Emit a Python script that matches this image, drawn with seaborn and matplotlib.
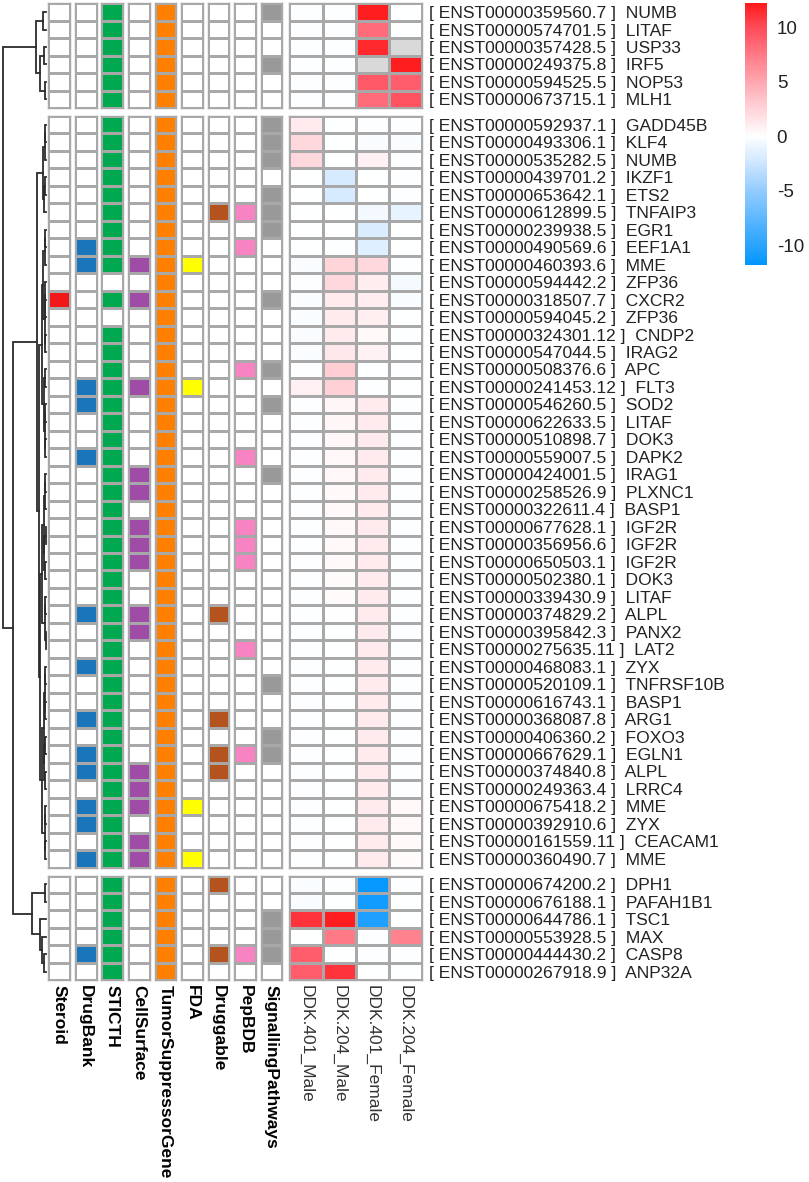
import numpy as np
import pandas as pd
import seaborn as sns
import matplotlib.pyplot as plt
from matplotlib.colors import ListedColormap, LinearSegmentedColormap, Normalize
from matplotlib.cm import ScalarMappable

# ---- data -------------------------------------------------------------
transcripts = [
    # cluster 1
    'ENST00000359560.7', 'ENST00000574701.5', 'ENST00000357428.5', 'ENST00000249375.8',
    'ENST00000594525.5', 'ENST00000673715.1',
    # cluster 2
    'ENST00000592937.1', 'ENST00000493306.1', 'ENST00000535282.5', 'ENST00000439701.2',
    'ENST00000653642.1', 'ENST00000612899.5', 'ENST00000239938.5', 'ENST00000490569.6',
    'ENST00000460393.6', 'ENST00000594442.2', 'ENST00000318507.7', 'ENST00000594045.2',
    'ENST00000324301.12', 'ENST00000547044.5', 'ENST00000508376.6', 'ENST00000241453.12',
    'ENST00000546260.5', 'ENST00000622633.5', 'ENST00000510898.7', 'ENST00000559007.5',
    'ENST00000424001.5', 'ENST00000258526.9', 'ENST00000322611.4', 'ENST00000677628.1',
    'ENST00000356956.6', 'ENST00000650503.1', 'ENST00000502380.1', 'ENST00000339430.9',
    'ENST00000374829.2', 'ENST00000395842.3', 'ENST00000275635.11', 'ENST00000468083.1',
    'ENST00000520109.1', 'ENST00000616743.1', 'ENST00000368087.8', 'ENST00000406360.2',
    'ENST00000667629.1', 'ENST00000374840.8', 'ENST00000249363.4', 'ENST00000675418.2',
    'ENST00000392910.6', 'ENST00000161559.11', 'ENST00000360490.7',
    # cluster 3
    'ENST00000674200.2', 'ENST00000676188.1', 'ENST00000644786.1', 'ENST00000553928.5',
    'ENST00000444430.2', 'ENST00000267918.9',
]
genes = [
    'NUMB', 'LITAF', 'USP33', 'IRF5', 'NOP53', 'MLH1',
    'GADD45B', 'KLF4', 'NUMB', 'IKZF1', 'ETS2', 'TNFAIP3', 'EGR1', 'EEF1A1', 'MME',
    'ZFP36', 'CXCR2', 'ZFP36', 'CNDP2', 'IRAG2', 'APC', 'FLT3', 'SOD2', 'LITAF', 'DOK3',
    'DAPK2', 'IRAG1', 'PLXNC1', 'BASP1', 'IGF2R', 'IGF2R', 'IGF2R', 'DOK3', 'LITAF',
    'ALPL', 'PANX2', 'LAT2', 'ZYX', 'TNFRSF10B', 'BASP1', 'ARG1', 'FOXO3', 'EGLN1',
    'ALPL', 'LRRC4', 'MME', 'ZYX', 'CEACAM1', 'MME',
    'DPH1', 'PAFAH1B1', 'TSC1', 'MAX', 'CASP8', 'ANP32A',
]
group_sizes = [6, 43, 6]

# log2 fold changes (NaN = missing)
nan = np.nan
ddk401_male = [-0.1, -0.1, -0.1, -0.1, -0.1, -0.1,
               1.2, 2.2, 2.2, -0.05, 0, 0, 0, 0, -0.2, -0.1, -0.2, -0.2, -0.2, -0.2, -0.1, 0.8,
               -0.1, -0.1, -0.1, -0.1, -0.1, -0.1, -0.1, -0.1, -0.1, -0.1, -0.1, -0.1, -0.1,
               -0.1, -0.1, -0.1, -0.1, -0.1, -0.1, -0.1, -0.1, -0.1, -0.1, -0.1, -0.1, -0.1, -0.1,
               -0.2, -0.2, 11.0, 0, 9.0, 9.0]
ddk204_male = [-0.1, -0.1, -0.1, -0.1, -0.1, -0.1,
               0, 0, 0, -2.0, -2.0, 0, 0, -0.1, 2.4, 2.2, 1.2, 1.2, 1.2, 1.3, 2.8, 2.6,
               0.5, 0.5, 0.4, 0.4, 0.4, 0.3, 0.3, 0.3, 0.3, 0.3, 0.2, 0.2, 0.1,
               0, 0, 0, 0, 0, 0, 0, 0, 0, 0, 0, 0, 0, 0,
               -0.1, 0, 12.0, 7.5, 0, 11.0]
ddk401_female = [12.0, 8.2, 11.5, nan, 9.2, 8.2,
                 -0.1, -0.2, 0.8, 0, 0, -0.6, -1.8, -1.6, 2.2, 1.0, 1.0, 0.9, 0.3, 0.7, 0, -0.1,
                 1.2, 1.2, 1.2, 1.2, 1.2, 1.2, 1.2, 1.2, 1.2, 1.2, 1.2, 1.2, 1.2,
                 1.2, 1.2, 1.2, 1.2, 1.2, 1.2, 1.2, 1.2, 1.2, 1.2, 1.2, 1.2, 1.2, 1.2,
                 -11.5, -11.0, -10.5, -0.1, -0.1, 0]
ddk204_female = [0, 0, nan, 12.0, 9.0, 9.5,
                 -0.1, -0.2, -0.1, -0.1, -0.1, -1.2, 0, 0, -0.1, -0.5, -0.2, 0, -0.1, 0, -0.1, 0,
                 -0.1, -0.1, -0.1, -0.1, -0.1, -0.1, -0.1, -0.1, -0.1, -0.1, -0.1, -0.1, -0.1,
                 -0.1, -0.1, -0.1, -0.1, -0.1, -0.1, -0.1, -0.1, -0.1, -0.1, 0.3, 0.3, 0.3, 0.2,
                 -0.1, 0, 0, 7.0, -0.1, 0]
expr_cols = ['DDK.401_Male', 'DDK.204_Male', 'DDK.401_Female', 'DDK.204_Female']

# annotation membership (row indices, 0-54)
ann_names = ['Steroid', 'DrugBank', 'STICTH', 'CellSurface', 'TumorSuppressorGene',
             'FDA', 'Druggable', 'PepBDB', 'SignallingPathways']
ann_colors = ['#F01818', '#1B75BB', '#00A94F', '#9E4CA5', '#FF7F00',
              '#FFFF00', '#B5531F', '#F883C3', '#999999']
steroid = [16]
drugbank = [13, 14, 21, 22, 25, 34, 37, 40, 42, 43, 45, 46, 48, 53]
sticth = [i for i in range(55) if i not in (15, 17)]
cellsurface = [14, 16, 21, 26, 27, 29, 30, 31, 34, 35, 43, 44, 45, 47, 48]
tumorsuppressor = list(range(55))
fda = [14, 21, 45, 48]
druggable = [11, 34, 40, 42, 43, 49, 53]
pepbdb = [11, 13, 20, 25, 29, 30, 31, 36, 42, 53]
signalling = [0, 3, 6, 7, 8, 10, 11, 12, 16, 20, 22, 26, 38, 41, 42, 51, 52, 53]
ann_members = [steroid, drugbank, sticth, cellsurface, tumorsuppressor,
               fda, druggable, pepbdb, signalling]

# row dendrograms: (height, left, right), leaves are local row indices
tree_g1 = (10, (3, 0, 1), (6, (2, 2, 3), (1.5, 4, 5)))
tree_g2 = (9,
           (3, (1.5, (0.8, 0, 1), 2), (1.8, (1.2, 3, 4), 5)),
           (7.5,
            (4.5, (2.6, (1.0, (0.7, 6, 7), 8), (1.4, (1.0, 9, (0.6, 10, 11)), (0.8, 12, 13))),
             (2.0, (0.9, 14, 15), (1.1, (1.1, 16, 17), (0.7, 18, 19)))),
            (6,
             (3.8, (2.2, (1.3, (0.6, 20, 21), 22), (1.6, (0.5, 23, 24), (0.9, 25, 26))),
              (1.2, (0.7, 27, 28), (0.5, 29, 30))),
             (4.2, (2.4, (1.5, (0.8, 31, 32), (0.6, 33, 34)), (1.7, (0.9, 35, 36), (1.0, 37, 38))),
              (1.4, (0.7, 39, 40), (0.6, 41, 42))))))
tree_g3 = (14, (1.2, 0, 1), (6, 2, (4, 3, (2.5, 4, 5))))
join_g2_g3 = 33
join_root = 43

# ---- layout -----------------------------------------------------------
W, H = 809, 1182
row_h = 17.48
group_tops = [3.3, 116.0, 875.5]
ann_x0, ann_step, ann_w = 48.3, 26.55, 21.7
hm_x0, hm_x1 = 289.3, 422.3
grid = '#A8A8A8'

plt.rcParams['font.family'] = ['Liberation Sans', 'DejaVu Sans']
plt.rcParams['axes.unicode_minus'] = False
fig = plt.figure(figsize=(W / 100, H / 100), dpi=100)


def px_axes(x0, y0, x1, y1):
    return fig.add_axes([x0 / W, 1 - y1 / H, (x1 - x0) / W, (y1 - y0) / H])


def frame(ax):
    for s in ax.spines.values():
        s.set_visible(True)
        s.set_color(grid)
        s.set_linewidth(1.0)


vmin, vmax = -11.8, 12.2
stops = [(-11.8, '#0096FF'), (-10, '#2AA4FF'), (-5, '#93CCFF'), (-2.5, '#CCE6FF'),
         (0, '#FFFFFF'), (2.5, '#FFD3D9'), (5, '#FFA7B1'), (10, '#FF4B5A'), (12.2, '#FF1A1A')]
cmap = LinearSegmentedColormap.from_list(
    'fc', [((v - vmin) / (vmax - vmin), c) for v, c in stops])

expr = pd.DataFrame({'DDK.401_Male': ddk401_male, 'DDK.204_Male': ddk204_male,
                     'DDK.401_Female': ddk401_female, 'DDK.204_Female': ddk204_female})
row_labels = [f'[ {t} ]  {g}' for t, g in zip(transcripts, genes)]

start = 0
for gi, n in enumerate(group_sizes):
    top = group_tops[gi]
    bottom = top + n * row_h
    idx = np.arange(start, start + n)
    last = gi == len(group_sizes) - 1

    # annotation columns
    for ci, (name, col, members) in enumerate(zip(ann_names, ann_colors, ann_members)):
        x0 = ann_x0 + ci * ann_step
        ax = px_axes(x0, top, x0 + ann_w, bottom)
        vals = pd.DataFrame({name: np.isin(idx, members).astype(float)})
        sns.heatmap(vals, cmap=ListedColormap(['white', col]), vmin=0, vmax=1, cbar=False,
                    linewidths=1.0, linecolor=grid, xticklabels=[name] if last else False,
                    yticklabels=False, ax=ax)
        frame(ax)
        if last:
            ax.set_xticklabels([name], rotation=270, fontweight='bold', fontsize=12.5,
                               color='black', ha='center', va='top')
            ax.tick_params(axis='x', length=0, pad=3)

    # expression heatmap
    ax = px_axes(hm_x0, top, hm_x1, bottom)
    ax.set_facecolor('#D9D9D9')
    sub = expr.iloc[start:start + n]
    sns.heatmap(sub, cmap=cmap, vmin=vmin, vmax=vmax, cbar=False, linewidths=1.0,
                linecolor=grid, xticklabels=expr_cols if last else False,
                yticklabels=row_labels[start:start + n], ax=ax)
    frame(ax)
    ax.yaxis.tick_right()
    ax.set_yticklabels(row_labels[start:start + n], rotation=0, fontsize=12.6, color='#222222')
    ax.tick_params(axis='y', length=0, pad=5)
    if last:
        ax.set_xticklabels(expr_cols, rotation=270, fontsize=12.5, color='#333333',
                           ha='center', va='top')
        ax.tick_params(axis='x', length=0, pad=3)
    start += n

# ---- dendrogram -------------------------------------------------------
axd = px_axes(0, 0, 47, H)
axd.set_xlim(0, 47)
axd.set_ylim(H, 0)
axd.axis('off')
leaf_x = 46.0
dcol, dlw = '#2B2B2B', 1.3


def hx(h):
    return leaf_x - h


def join(a, b, h):
    (ya, ha), (yb, hb) = a, b
    axd.plot([hx(ha), hx(h), hx(h), hx(hb)], [ya, ya, yb, yb], color=dcol, lw=dlw,
             solid_joinstyle='miter')
    return (ya + yb) / 2, h


def draw(node, top):
    if isinstance(node, int):
        return top + (node + 0.5) * row_h, 0
    h, left, right = node
    return join(draw(left, top), draw(right, top), h)


n1 = draw(tree_g1, group_tops[0])
n2 = draw(tree_g2, group_tops[1])
n3 = draw(tree_g3, group_tops[2])
join(n1, join(n2, n3, join_g2_g3), join_root)

# ---- colour legend ----------------------------------------------------
cax = px_axes(745, 3, 767, 265)
sm = ScalarMappable(norm=Normalize(vmin, vmax), cmap=cmap)
cb = fig.colorbar(sm, cax=cax)
cb.outline.set_visible(False)
cb.set_ticks([10, 5, 0, -5, -10])
cax.tick_params(length=0, pad=7, labelsize=13.5, colors='#222222')

fig.savefig('out.png', dpi=100)
